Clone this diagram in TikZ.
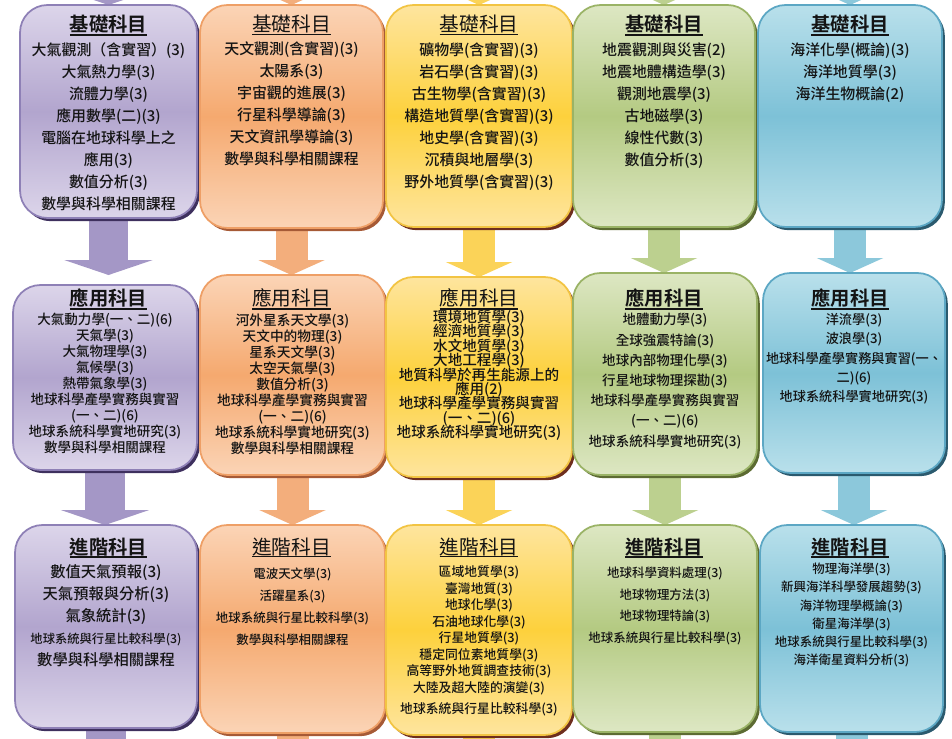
\documentclass[tikz,border=0pt]{standalone}
\usepackage{fontspec}
\setmainfont{Noto Sans CJK TC Medium}[BoldFont={Noto Sans CJK TC Bold}]
\newfontfamily\lightheadfont{Noto Sans CJK TC}
\usepackage{xcolor}
\usetikzlibrary{arrows.meta, shadows, backgrounds}

\definecolor{purpletop}{HTML}{DCD5EA}
\definecolor{purplemid}{HTML}{B2A5CE}
\definecolor{purpleedge}{HTML}{8E80B6}
\definecolor{purpleshadow}{HTML}{3E305E}
\definecolor{purplearrow}{HTML}{A497C6}
\definecolor{orangetop}{HTML}{FBD4B6}
\definecolor{orangemid}{HTML}{F5A96F}
\definecolor{orangeedge}{HTML}{EE9F66}
\definecolor{orangeshadow}{HTML}{A65A36}
\definecolor{orangearrow}{HTML}{F3AE7C}
\definecolor{yellowtop}{HTML}{FEE59E}
\definecolor{yellowmid}{HTML}{FDD13C}
\definecolor{yellowedge}{HTML}{F2C443}
\definecolor{yellowshadow}{HTML}{6E2E1E}
\definecolor{yellowarrow}{HTML}{FBD358}
\definecolor{greentop}{HTML}{DDE7C3}
\definecolor{greenmid}{HTML}{B4CA82}
\definecolor{greenedge}{HTML}{9AB366}
\definecolor{greenshadow}{HTML}{5C6B32}
\definecolor{greenarrow}{HTML}{BCD08F}
\definecolor{bluetop}{HTML}{B9E0EB}
\definecolor{bluemid}{HTML}{7DC1D7}
\definecolor{blueedge}{HTML}{5CA7C4}
\definecolor{blueshadow}{HTML}{2B5A6E}
\definecolor{bluearrow}{HTML}{8CC8DB}
\definecolor{inkblack}{HTML}{141414}

\newcommand{\tightlines}{\lineskiplimit=-5pt\relax\lineskip=0pt\relax}

\begin{document}
\begin{tikzpicture}[x=0.02cm, y=-0.02cm]

		% Define styles
		\tikzstyle{box} = [rectangle, rounded corners=0.55cm, draw, line width=1pt, inner sep=0pt, outer sep=0pt]
		\tikzstyle{purplebox} = [box, draw=purpleedge, top color=purpletop, bottom color=purpletop, middle color=purplemid, drop shadow={fill=purpleshadow, opacity=1, shadow xshift=1.6pt, shadow yshift=-1.8pt}]
		\tikzstyle{orangebox} = [box, draw=orangeedge, top color=orangetop, bottom color=orangetop, middle color=orangemid, drop shadow={fill=orangeshadow, opacity=1, shadow xshift=1.6pt, shadow yshift=-1.8pt}]
		\tikzstyle{yellowbox} = [box, draw=yellowedge, top color=yellowtop, bottom color=yellowtop, middle color=yellowmid, drop shadow={fill=yellowshadow, opacity=1, shadow xshift=1.6pt, shadow yshift=-1.8pt}]
		\tikzstyle{greenbox} = [box, draw=greenedge, top color=greentop, bottom color=greentop, middle color=greenmid, drop shadow={fill=greenshadow, opacity=1, shadow xshift=1.6pt, shadow yshift=-1.8pt}]
		\tikzstyle{bluebox} = [box, draw=blueedge, top color=bluetop, bottom color=bluetop, middle color=bluemid, drop shadow={fill=blueshadow, opacity=1, shadow xshift=1.6pt, shadow yshift=-1.8pt}]
		\tikzstyle{bigarrow} = [line width=0.64cm, -{Triangle[width=1.32cm, length=0.3cm]}]
		\tikzstyle{widearrow} = [line width=0.8cm, -{Triangle[width=1.76cm, length=0.3cm]}]
		\tikzstyle{heading} = [inner sep=0pt, outer sep=0pt, anchor=base, text=inkblack, font=\fontsize{11}{13}\selectfont\bfseries]
		\tikzstyle{headinglight} = [heading, font=\fontsize{11.2}{13}\selectfont\lightheadfont]
		\tikzstyle{uline} = [line width=0.9pt, inkblack]
		\tikzstyle{course} = [inner sep=0pt, outer sep=0pt, align=center, anchor=north, text=inkblack]
		\tikzstyle{basic} = [course, font=\fontsize{8.5}{12.47}\selectfont]

		\useasboundingbox (0,0) rectangle (952,739);

		% Boxes, first row
		\node[purplebox, minimum width=3.54cm, minimum height=4.26cm] (a1) at (108.5,111.5) {};
		\node[orangebox, minimum width=3.66cm, minimum height=4.46cm] (b1) at (291.5,116.5) {};
		\node[yellowbox, minimum width=3.72cm, minimum height=4.44cm] (c1) at (479,116) {};
		\node[greenbox, minimum width=3.64cm, minimum height=4.44cm] (d1) at (664,116) {};
		\node[bluebox, minimum width=3.68cm, minimum height=4.44cm] (e1) at (850,116) {};

		% Boxes, second row
		\node[purplebox, minimum width=3.68cm, minimum height=3.70cm] (a2) at (105,377.5) {};
		\node[orangebox, minimum width=3.70cm, minimum height=4.00cm] (b2) at (292.5,375) {};
		\node[yellowbox, minimum width=3.72cm, minimum height=4.00cm] (c2) at (479,377) {};
		\node[greenbox, minimum width=3.68cm, minimum height=4.04cm] (d2) at (665,374) {};
		\node[bluebox, minimum width=3.64cm, minimum height=4.00cm] (e2) at (854,373) {};

		% Boxes, third row
		\node[purplebox, minimum width=3.64cm, minimum height=4.06cm] (a3) at (106,626.5) {};
		\node[orangebox, minimum width=3.70cm, minimum height=4.16cm] (b3) at (292.5,629) {};
		\node[yellowbox, minimum width=3.72cm, minimum height=4.20cm] (c3) at (479,630) {};
		\node[greenbox, minimum width=3.68cm, minimum height=4.14cm] (d3) at (665,628.5) {};
		\node[bluebox, minimum width=3.66cm, minimum height=4.14cm] (e3) at (851.5,628.5) {};

		% Headings
		\foreach \col/\x/\w in {a/108.5/heading, b/291.5/headinglight, c/479/headinglight, d/664/heading, e/850/heading} {
			\node[\w] (\col1h) at (\x,32) {基礎科目};
			\node[\w] (\col2h) at (\x,306) {應用科目};
			\node[\w] (\col3h) at (\x,554) {進階科目};
			\draw[uline] ([yshift=-0.6pt]\col1h.south west) -- ([yshift=-0.6pt]\col1h.south east);
			\draw[uline] ([yshift=-0.6pt]\col2h.south west) -- ([yshift=-0.6pt]\col2h.south east);
			\draw[uline] ([yshift=-0.6pt]\col3h.south west) -- ([yshift=-0.6pt]\col3h.south east);
		}

		% Courses, first row
		\node[basic] (a1t) at (108.5,43) {大氣觀測（含實習）(3)\\大氣熱力學(3)\\流體力學(3)\\應用數學(二)(3)\\電腦在地球科學上之\\應用(3)\\數值分析(3)\\數學與科學相關課程};
		\node[basic] (b1t) at (291.5,42) {天文觀測(含實習)(3)\\太陽系(3)\\宇宙觀的進展(3)\\行星科學導論(3)\\天文資訊學導論(3)\\數學與科學相關課程};
		\node[basic] (c1t) at (479,43) {礦物學(含實習)(3)\\岩石學(含實習)(3)\\古生物學(含實習)(3)\\構造地質學(含實習)(3)\\地史學(含實習)(3)\\沉積與地層學(3)\\野外地質學(含實習)(3)};
		\node[basic] (d1t) at (664,43) {地震觀測與災害(2)\\地震地體構造學(3)\\觀測地震學(3)\\古地磁學(3)\\線性代數(3)\\數值分析(3)};
		\node[basic] (e1t) at (850,43) {海洋化學(概論)(3)\\海洋地質學(3)\\海洋生物概論(2)};

		% Courses, second row
		\node[course, font=\fontsize{7.7}{9.1}\selectfont] (a2t) at (105,313.5) {大氣動力學(一、二)(6)\\天氣學(3)\\大氣物理學(3)\\氣候學(3)\\熱帶氣象學(3)\\地球科學產學實務與實習\\(一、二)(6)\\地球系統科學實地研究(3)\\數學與科學相關課程};
		\node[course, font=\fontsize{7.8}{9.1}\selectfont] (b2t) at (292.5,313.5) {河外星系天文學(3)\\天文中的物理(3)\\星系天文學(3)\\太空天氣學(3)\\數值分析(3)\\地球科學產學實務與實習\\(一、二)(6)\\地球系統科學實地研究(3)\\數學與科學相關課程};
		\node[course, font=\fontsize{8.3}{8.2}\selectfont\tightlines] (c2t) at (479,310) {環境地質學(3)\\經濟地質學(3)\\水文地質學(3)\\大地工程學(3)\\地質科學於再生能源上的\\應用(2)\\地球科學產學實務與實習\\(一、二)(6)\\地球系統科學實地研究(3)};
		\node[course, font=\fontsize{7.7}{11.5}\selectfont] (d2t) at (665,313.5) {地體動力學(3)\\全球強震特論(3)\\地球內部物理化學(3)\\行星地球物理探勘(3)\\地球科學產學實務與實習\\(一、二)(6)\\地球系統科學實地研究(3)};
		\node[course, font=\fontsize{7.5}{11}\selectfont] (e2t) at (854,313.5) {洋流學(3)\\波浪學(3)\\地球科學產學實務與實習(一、\\二)(6)\\地球系統科學實地研究(3)};

		% Courses, third row
		\node[course, font=\fontsize{8.7}{12.47}\selectfont] (a3t) at (106,565) {數值天氣預報(3)\\天氣預報與分析(3)\\氣象統計(3)\\{\fontsize{7}{12.47}\selectfont 地球系統與行星比較科學(3)}\\數學與科學相關課程};
		\node[course, font=\fontsize{7.1}{12.47}\selectfont] (b3t) at (292.5,568) {電波天文學(3)\\活躍星系(3)\\地球系統與行星比較科學(3)\\數學與科學相關課程};
		\node[course, font=\fontsize{7.3}{9.4}\selectfont] (c3t) at (479,566) {區域地質學(3)\\臺灣地質(3)\\地球化學(3)\\石油地球化學(3)\\行星地質學(3)\\穩定同位素地質學(3)\\高等野外地質調查技術(3)\\大陸及超大陸的演變(3)\\[2.5pt]地球系統與行星比較科學(3)};
		\node[course, font=\fontsize{7.1}{12.3}\selectfont] (d3t) at (665,567) {地球科學資料處理(3)\\地球物理方法(3)\\地球物理特論(3)\\地球系統與行星比較科學(3)};
		\node[course, font=\fontsize{7.1}{10.4}\selectfont] (e3t) at (851.5,563) {物理海洋學(3)\\新興海洋科學發展趨勢(3)\\海洋物理學概論(3)\\衛星海洋學(3)\\地球系統與行星比較科學(3)\\海洋衛星資料分析(3)};

		% Free ends above and below the page
		\foreach \col in {a,b,c,d,e} {
			\coordinate (\col0) at ([yshift=1.2cm]\col1.north);
			\coordinate (\col4) at ([yshift=-1.2cm]\col3.south);
		}

		% Arrows
		\begin{scope}[on background layer]
			\draw[widearrow, purplearrow] (a0) -- (a1.north);
			\draw[widearrow, purplearrow, shorten >=0.2cm] (a1.south) -- (a1.south |- a2.north);
			\draw[widearrow, purplearrow] (a2.south) -- (a2.south |- a3.north);
			\draw[widearrow, purplearrow] (a3.south) -- (a4);
			\draw[bigarrow, orangearrow] (b0) -- (b1.north);
			\draw[bigarrow, orangearrow] (b1.south) -- (b1.south |- b2.north);
			\draw[bigarrow, orangearrow] (b2.south) -- (b2.south |- b3.north);
			\draw[bigarrow, orangearrow] (b3.south) -- (b4);
			\draw[bigarrow, yellowarrow] (c0) -- (c1.north);
			\draw[bigarrow, yellowarrow] (c1.south) -- (c1.south |- c2.north);
			\draw[bigarrow, yellowarrow] (c2.south) -- (c2.south |- c3.north);
			\draw[bigarrow, yellowarrow] (c3.south) -- (c4);
			\draw[bigarrow, greenarrow] (d0) -- (d1.north);
			\draw[bigarrow, greenarrow] (d1.south) -- (d1.south |- d2.north);
			\draw[bigarrow, greenarrow] (d2.south) -- (d2.south |- d3.north);
			\draw[bigarrow, greenarrow] (d3.south) -- (d4);
			\draw[bigarrow, bluearrow] (e0) -- (e1.north);
			\draw[bigarrow, bluearrow] (e1.south) -- (e1.south |- e2.north);
			\draw[bigarrow, bluearrow] (e2.south) -- (e2.south |- e3.north);
			\draw[bigarrow, bluearrow] (e3.south) -- (e4);
		\end{scope}

	\end{tikzpicture}
\end{document}
